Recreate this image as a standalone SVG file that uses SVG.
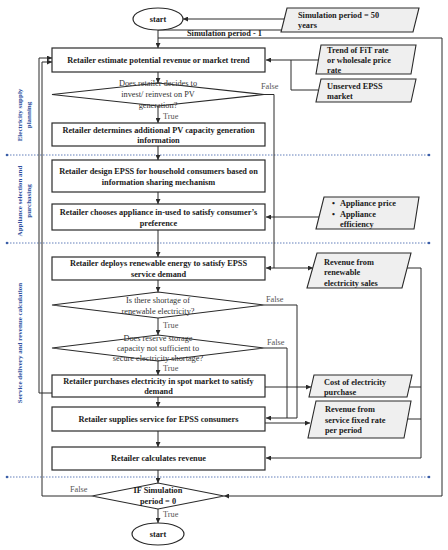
<svg xmlns="http://www.w3.org/2000/svg" width="448" height="550" viewBox="0 0 448 550">
<style>
.box{fill:#fff;stroke:#2a2a2a;stroke-width:1.2}
.para{fill:#efefef;stroke:#2a2a2a;stroke-width:1.1}
.dia{fill:#fff;stroke:#2a2a2a;stroke-width:1.1}
.t{font-family:"Liberation Serif",serif;font-size:8.3px;font-weight:bold;fill:#1a1a1a}
.c{text-anchor:middle}
.d{font-family:"Liberation Serif",serif;font-size:8.3px;fill:#333;text-anchor:middle}
.lb{font-family:"Liberation Serif",serif;font-size:8.3px;fill:#555}
.side{font-family:"Liberation Serif",serif;font-size:7px;font-weight:bold;fill:#2e4f9e;text-anchor:middle}
.ln{fill:none;stroke:#2a2a2a;stroke-width:1}
.sep{fill:none;stroke:#3b5ea8;stroke-width:0.8;stroke-dasharray:1.5 1.5}
</style>
<defs>
<marker id="ah" markerWidth="5" markerHeight="5" refX="5" refY="2.5" orient="auto" markerUnits="userSpaceOnUse">
<path d="M0,0 L5,2.5 L0,5 z" fill="#2a2a2a"/>
</marker>
</defs>

<g id="separators">
<line class="sep" x1="7" y1="155" x2="429" y2="155"/>
<circle cx="7" cy="155" r="1.3" fill="#3b5ea8"/><circle cx="429" cy="155" r="1.3" fill="#3b5ea8"/>
<line class="sep" x1="7" y1="243" x2="429" y2="243"/>
<circle cx="7" cy="243" r="1.3" fill="#3b5ea8"/><circle cx="429" cy="243" r="1.3" fill="#3b5ea8"/>
<line class="sep" x1="7" y1="477" x2="429" y2="477"/>
<circle cx="7" cy="477" r="1.3" fill="#3b5ea8"/><circle cx="429" cy="477" r="1.3" fill="#3b5ea8"/>
</g>

<g id="side-labels">
<text class="side" transform="translate(21.5,115) rotate(-90)">Electricity supply</text>
<text class="side" transform="translate(31,115) rotate(-90)">planning</text>
<text class="side" transform="translate(21.5,201) rotate(-90)">Appliance selection and</text>
<text class="side" transform="translate(31,201) rotate(-90)">purchasing</text>
<text class="side" transform="translate(21.5,343) rotate(-90)">Service delivery and revenue calculation</text>
</g>

<g id="connectors">
<line class="ln" x1="284" y1="19" x2="183" y2="19" marker-end="url(#ah)"/>
<line class="ln" x1="158" y1="30" x2="281" y2="30"/>
<line class="ln" x1="158" y1="30" x2="158" y2="48" marker-end="url(#ah)"/>
<polyline class="ln" points="158,38 442,38 442,496 224,496" marker-end="url(#ah)"/>
<line class="ln" x1="318" y1="60" x2="266" y2="60" marker-end="url(#ah)"/>
<polyline class="ln" points="318,90 291,90 291,60"/>
<line class="ln" x1="158" y1="72" x2="158" y2="83" marker-end="url(#ah)"/>
<line class="ln" x1="158" y1="106" x2="158" y2="123" marker-end="url(#ah)"/>
<polyline class="ln" points="264,94.5 274,94.5 274,268 266,268" marker-end="url(#ah)"/>
<line class="ln" x1="158" y1="146" x2="158" y2="160" marker-end="url(#ah)"/>
<line class="ln" x1="158" y1="192" x2="158" y2="204" marker-end="url(#ah)"/>
<line class="ln" x1="319" y1="217" x2="266" y2="217" marker-end="url(#ah)"/>
<line class="ln" x1="158" y1="230" x2="158" y2="257" marker-end="url(#ah)"/>
<line class="ln" x1="274" y1="268" x2="313" y2="268" marker-end="url(#ah)"/>
<polyline class="ln" points="407,268 421,268 421,458 266,458" marker-end="url(#ah)"/>
<line class="ln" x1="158" y1="280" x2="158" y2="292" marker-end="url(#ah)"/>
<polyline class="ln" points="264,305 297,305 297,418 266,418" marker-end="url(#ah)"/>
<line class="ln" x1="158" y1="318" x2="158" y2="335" marker-end="url(#ah)"/>
<polyline class="ln" points="264,348 287,348 287,418"/>
<line class="ln" x1="158" y1="361" x2="158" y2="375" marker-end="url(#ah)"/>
<line class="ln" x1="265" y1="387" x2="311" y2="387" marker-end="url(#ah)"/>
<line class="ln" x1="409" y1="387" x2="421" y2="387"/>
<line class="ln" x1="158" y1="397" x2="158" y2="407" marker-end="url(#ah)"/>
<line class="ln" x1="265" y1="423" x2="310" y2="423" marker-end="url(#ah)"/>
<line class="ln" x1="407" y1="419" x2="421" y2="419"/>
<line class="ln" x1="158" y1="431" x2="158" y2="447" marker-end="url(#ah)"/>
<line class="ln" x1="158" y1="470" x2="158" y2="483" marker-end="url(#ah)"/>
<line class="ln" x1="158" y1="509" x2="158" y2="523" marker-end="url(#ah)"/>
<polyline class="ln" points="92,496 42,496 42,62 52,62" marker-end="url(#ah)"/>
<polyline class="ln" points="52,393 39,393 39,58 52,58" marker-end="url(#ah)"/>
<text class="t" x="187" y="36">Simulation period - 1</text>
<text class="lb" x="261" y="89">False</text>
<text class="lb" x="163" y="119">True</text>
<text class="lb" x="266" y="302">False</text>
<text class="lb" x="163" y="328">True</text>
<text class="lb" x="267" y="345">False</text>
<text class="lb" x="163" y="371">True</text>
<text class="lb" x="70" y="492">False</text>
<text class="lb" x="163" y="517">True</text>
</g>

<g id="start">
<ellipse class="box" cx="158" cy="19" rx="25" ry="11"/>
<text class="t c" x="158" y="22">start</text>
</g>

<g id="sim-period">
<polygon class="para" points="287,8 419,8 413,32 281,32"/>
<text class="t" x="298" y="18">Simulation period = 50</text>
<text class="t" x="298" y="28">years</text>
</g>

<g id="estimate">
<rect class="box" x="52" y="48" width="213" height="24"/>
<text class="t c" x="158.5" y="63">Retailer estimate potential revenue or market trend</text>
</g>

<g id="trend">
<polygon class="para" points="321,45 416,45 411,74 316,74"/>
<text class="t" x="327" y="53">Trend of FiT rate</text>
<text class="t" x="327" y="63">or wholesale price</text>
<text class="t" x="327" y="73">rate</text>
</g>

<g id="unserved">
<polygon class="para" points="321,79 416,79 411,102 316,102"/>
<text class="t" x="327" y="89">Unserved EPSS</text>
<text class="t" x="327" y="99">market</text>
</g>

<g id="invest">
<polygon class="dia" points="52,94.5 158,83 264,94.5 158,106"/>
<text class="d" x="158" y="86">Does retailer decides to</text>
<text class="d" x="158" y="97">invest/ reinvest on PV</text>
<text class="d" x="158" y="108">generation?</text>
</g>

<g id="determine">
<rect class="box" x="52" y="123" width="213" height="23"/>
<text class="t c" x="158.5" y="133">Retailer determines additional PV capacity generation</text>
<text class="t c" x="158.5" y="143">information</text>
</g>

<g id="design">
<rect class="box" x="52" y="160" width="213" height="32"/>
<text class="t c" x="158.5" y="174">Retailer design EPSS for household consumers based on</text>
<text class="t c" x="158.5" y="185">information sharing mechanism</text>
</g>

<g id="choose">
<rect class="box" x="52" y="204" width="213" height="26"/>
<text class="t c" x="158.5" y="215">Retailer chooses appliance in-used to satisfy consumer’s</text>
<text class="t c" x="158.5" y="226">preference</text>
</g>

<g id="appliance">
<polygon class="para" points="324,197 419,197 414,229 316,229"/>
<text class="t" x="332" y="206">•</text>
<text class="t" x="340" y="206">Appliance price</text>
<text class="t" x="332" y="217">•</text>
<text class="t" x="340" y="217">Appliance</text>
<text class="t" x="340" y="227">efficiency</text>
</g>

<g id="deploy">
<rect class="box" x="52" y="257" width="213" height="23"/>
<text class="t c" x="158.5" y="266">Retailer deploys renewable energy to satisfy EPSS</text>
<text class="t c" x="158.5" y="277">service demand</text>
</g>

<g id="rev-renew">
<polygon class="para" points="317,253 411,253 402,288 307,288"/>
<text class="t" x="324" y="265">Revenue from</text>
<text class="t" x="324" y="275">renewable</text>
<text class="t" x="324" y="286">electricity sales</text>
</g>

<g id="shortage">
<polygon class="dia" points="52,305 158,292 264,305 158,318"/>
<text class="d" x="158" y="303">Is there shortage of</text>
<text class="d" x="158" y="314">renewable electricity?</text>
</g>

<g id="storage">
<polygon class="dia" points="52,348 158,335 264,348 158,361"/>
<text class="d" x="158" y="341">Does reserve storage</text>
<text class="d" x="158" y="351">capacity not sufficient to</text>
<text class="d" x="158" y="361">secure electricity shortage?</text>
</g>

<g id="purchase">
<rect class="box" x="52" y="375" width="213" height="22"/>
<text class="t c" x="158.5" y="384">Retailer purchases electricity in spot market to satisfy</text>
<text class="t c" x="158.5" y="394">demand</text>
</g>

<g id="cost">
<polygon class="para" points="314,375 412,375 407,397 309,397"/>
<text class="t" x="324" y="385">Cost of electricity</text>
<text class="t" x="324" y="395">purchase</text>
</g>

<g id="supplies">
<rect class="box" x="52" y="407" width="213" height="24"/>
<text class="t c" x="158.5" y="422">Retailer supplies service for EPSS consumers</text>
</g>

<g id="rev-service">
<polygon class="para" points="316,401 411,401 404,438 308,438"/>
<text class="t" x="325" y="412">Revenue from</text>
<text class="t" x="325" y="423">service fixed rate</text>
<text class="t" x="325" y="433">per period</text>
</g>

<g id="calculate">
<rect class="box" x="52" y="447" width="213" height="23"/>
<text class="t c" x="158.5" y="461">Retailer calculates revenue</text>
</g>

<g id="if-sim">
<polygon class="dia" points="92,496 158,483 224,496 158,509"/>
<text class="t c" x="158" y="493">IF Simulation</text>
<text class="t c" x="158" y="504">period = 0</text>
</g>

<g id="end">
<ellipse class="box" cx="158" cy="534" rx="26" ry="11"/>
<text class="t c" x="158" y="537">start</text>
</g>
</svg>
